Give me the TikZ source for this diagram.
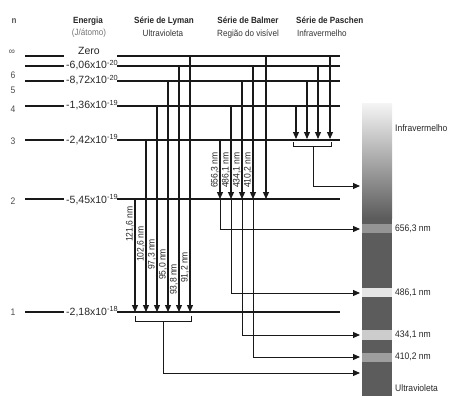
\documentclass[tikz,border=0pt]{standalone}
\usepackage{fontspec}
\setmainfont{Liberation Sans}[FakeStretch=0.9]
\newfontfamily\enfont{Liberation Sans}
\usetikzlibrary{arrows.meta}
\definecolor{specdark}{RGB}{92,92,92}
\begin{document}
\begin{tikzpicture}[x=1pt,y=-1pt,
  lvl/.style={line width=1.5pt, draw=black!90},
  tr/.style={line width=1.15pt, draw=black!90, -{Triangle[width=6pt,length=7pt]}},
  lead/.style={line width=1pt, draw=black!90},
  leadarr/.style={lead, -{Triangle[width=6pt,length=7pt]}},
  ttl/.style={font=\fontsize{9}{10}\selectfont\bfseries, text=black!85, inner sep=0pt, anchor=base},
  subttl/.style={font=\fontsize{9}{10}\selectfont, text=black!80, inner sep=0pt, anchor=base},
  enlab/.style={font=\enfont\fontsize{10.5}{11}\selectfont, text=black!85, inner sep=0pt, anchor=base west},
  nlab/.style={font=\fontsize{9.5}{10}\selectfont, text=black!70, inner sep=0pt, anchor=base},
  wlab/.style={font=\fontsize{9.5}{10}\selectfont, text=black!85, inner sep=0pt},
  rwlab/.style={wlab, rotate=90, anchor=south west},
]
\useasboundingbox (0,0) rectangle (450,396);

% spectrum bar
\shade[top color=black!4, bottom color=specdark] (362,103) rectangle (392,218);
\fill[specdark] (362,218) rectangle (392,396);
\fill[black!42] (362,224) rectangle (392,233);
\fill[black!10] (362,288) rectangle (392,297);
\fill[black!20] (362,330) rectangle (392,340);
\fill[black!38] (362,353) rectangle (392,362);

% headings
\node[ttl, text=black!65] (hn) at (14,24) {n};
\node[ttl] (hE) at (88,24) {Energia};
\node[subttl, text=black!55] (hJ) at (89,36) {(J/átomo)};
\node[ttl] (hL) at (164,24) {Série de Lyman};
\node[subttl] (hLs) at (163,37) {Ultravioleta};
\node[ttl] (hB) at (248,24) {Série de Balmer};
\node[subttl] (hBs) at (248,37) {Região do visível};
\node[ttl, anchor=base west] (hP) at (296,24) {Série de Paschen};
\node[subttl, anchor=base west] (hPs) at (297,37) {Infravermelho};

% quantum numbers
\node[nlab] (ninf) at (12,55) {∞};
\node[nlab] (n6) at (13,78) {6};
\node[nlab] (n5) at (13,93) {5};
\node[nlab] (n4) at (13,113) {4};
\node[nlab] (n3) at (13,144) {3};
\node[nlab] (n2) at (13,204) {2};
\node[nlab] (n1) at (13,315) {1};

% levels
\foreach \nm/\y in {inf/56, lsix/66, lfive/81, lfour/106, lthree/140, ltwo/199, lone/312} {
  \coordinate (\nm A) at (25,\y);
  \coordinate (\nm B) at (64,\y);
  \coordinate (\nm C) at (117,\y);
  \coordinate (\nm D) at (340,\y);
  \draw[lvl] (\nm A) -- (\nm B);
  \draw[lvl] (\nm C) -- (\nm D);
}

% energy labels
\node[enlab, anchor=base] (e0) at (89,55) {Zero};
\node[enlab] (e6) at (66,69) {-6,06x10\textsuperscript{-20}};
\node[enlab] (e5) at (66,84) {-8,72x10\textsuperscript{-20}};
\node[enlab] (e4) at (66,109) {-1,36x10\textsuperscript{-19}};
\node[enlab] (e3) at (66,143) {-2,42x10\textsuperscript{-19}};
\node[enlab] (e2) at (66,203) {-5,45x10\textsuperscript{-19}};
\node[enlab] (e1) at (66,315) {-2,18x10\textsuperscript{-18}};

% Lyman
\foreach \nm/\x/\y in {lya/135/199, lyb/146/140, lyc/157/106, lyd/168/81, lye/179/66, lyf/190/56} {
  \coordinate (\nm s) at (\x,\y);
  \coordinate (\nm e) at (\x,312);
  \draw[tr] (\nm s) -- (\nm e);
}
\node[rwlab] (w1216) at (134,242) {121,6 nm};
\node[rwlab] (w1026) at (145,262) {102,6 nm};
\node[rwlab] (w973) at (156,270) {97,3 nm};
\node[rwlab] (w950) at (167,280) {95,0 nm};
\node[rwlab] (w938) at (178,295) {93,8 nm};
\node[rwlab] (w912) at (189,283) {91,2 nm};

% Balmer
\foreach \nm/\x/\y in {baa/220/140, bab/231/106, bac/242/81, bad/253/66, bae/266/56} {
  \coordinate (\nm s) at (\x,\y);
  \coordinate (\nm e) at (\x,199);
  \draw[tr] (\nm s) -- (\nm e);
}
\node[rwlab] (w6563) at (219,188) {656,3 nm};
\node[rwlab] (w4861) at (230,188) {486,1 nm};
\node[rwlab] (w4341) at (241,188) {434,1 nm};
\node[rwlab] (w4102) at (252,188) {410,2 nm};

% Paschen
\foreach \nm/\x/\y in {paa/296/106, pab/307/81, pac/318/66, pad/330/56} {
  \coordinate (\nm s) at (\x,\y);
  \coordinate (\nm e) at (\x,139);
  \draw[tr] (\nm s) -- (\nm e);
}

% spectrum targets
\coordinate (tIR) at (360,186);
\coordinate (t656) at (360,229);
\coordinate (t486) at (360,293);
\coordinate (t434) at (360,335);
\coordinate (t410) at (360,357);
\coordinate (tUV) at (360,373);

% Balmer leads
\coordinate (k656) at (220,229);
\coordinate (k486) at (231,293);
\coordinate (k434) at (242,335);
\coordinate (k410) at (253,357);
\draw[leadarr] (baae) -- (k656) -- (t656);
\draw[leadarr] (babe) -- (k486) -- (t486);
\draw[leadarr] (bace) -- (k434) -- (t434);
\draw[leadarr] (bade) -- (k410) -- (t410);

% Paschen bracket
\coordinate (pbl) at (293,142);
\coordinate (pbr) at (331,142);
\coordinate (pbm) at (313,146);
\coordinate (pbk) at (313,186);
\draw[lead] (pbl) -- (293,146) -- (331,146) -- (pbr);
\draw[leadarr] (pbm) -- (pbk) -- (tIR);

% Lyman bracket
\coordinate (lbl) at (135,316);
\coordinate (lbr) at (191,316);
\coordinate (lbm) at (163,321);
\coordinate (lbk) at (163,373);
\draw[lead] (lbl) -- (135,321) -- (191,321) -- (lbr);
\draw[leadarr] (lbm) -- (lbk) -- (tUV);

% spectrum labels
\node[wlab, anchor=west] (sIR) at (395,128) {Infravermelho};
\node[wlab, anchor=west] (s656) at (395,229) {656,3 nm};
\node[wlab, anchor=west] (s486) at (395,293) {486,1 nm};
\node[wlab, anchor=west] (s434) at (395,335) {434,1 nm};
\node[wlab, anchor=west] (s410) at (395,357) {410,2 nm};
\node[wlab, anchor=west] (sUV) at (395,388) {Ultravioleta};
\end{tikzpicture}
\end{document}
